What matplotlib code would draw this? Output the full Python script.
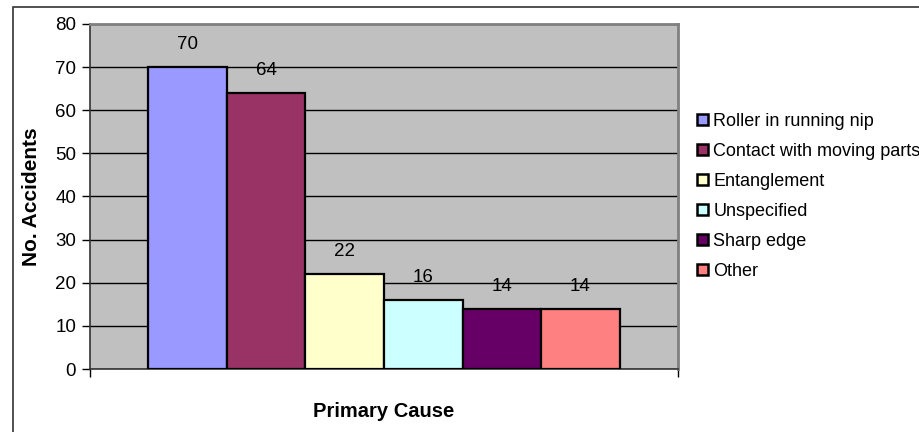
import matplotlib
matplotlib.use("Agg")
import matplotlib.pyplot as plt
from matplotlib.patches import Patch, Rectangle

plt.rcParams['font.family'] = ['Liberation Sans', 'DejaVu Sans']

causes = ["Roller in running nip", "Contact with moving parts", "Entanglement",
          "Unspecified", "Sharp edge", "Other"]
accidents = [70, 64, 22, 16, 14, 14]
colors = ["#9999FF", "#993366", "#FFFFCC", "#CCFFFF", "#660066", "#FF8080"]
yticks = [0, 10, 20, 30, 40, 50, 60, 70, 80]

fig = plt.figure(figsize=(9.2, 4.32), dpi=100)
fig.patch.set_facecolor("white")

# outer chart frame
fig.add_artist(Rectangle((13 / 920, -0.1), 1.2, 1 - 7 / 432 + 0.1,
                         transform=fig.transFigure, fill=False,
                         edgecolor="#333333", linewidth=1.2))

ax = fig.add_axes([90 / 920, 1 - 369 / 432, (678 - 90) / 920, (369 - 24) / 432])
ax.set_facecolor("#C0C0C0")

x = list(range(len(causes)))
bars = ax.bar(x, accidents, width=1.0, color=colors, edgecolor="black",
              linewidth=1.6, zorder=3)
for xi, v in zip(x, accidents):
    ax.annotate(str(v), (xi, v), xytext=(0, 10), textcoords="offset points",
                ha="center", va="bottom", fontsize=13.5, zorder=4)

ax.set_xlim(-0.5 - 0.745, len(causes) - 0.5 + 0.745)
ax.set_ylim(0, 80)
ax.set_yticks(yticks)
ax.set_yticklabels([str(t) for t in yticks], fontsize=13.5)
ax.set_xticks([ax.get_xlim()[0], ax.get_xlim()[1]])
ax.set_xticklabels(["", ""])
ax.tick_params(axis="y", direction="out", length=6, width=1, pad=4, colors="black")
ax.tick_params(axis="x", direction="out", length=6, width=1)
ax.yaxis.grid(True, color="black", linewidth=1, zorder=1)
ax.set_axisbelow(True)

for s in ["top", "right"]:
    ax.spines[s].set_color("#808080")
    ax.spines[s].set_linewidth(2)
ax.spines["left"].set_color("#333333")
ax.spines["bottom"].set_color("#333333")
ax.spines["left"].set_linewidth(1.2)
ax.spines["bottom"].set_linewidth(1.2)

ax.set_ylabel("No. Accidents", fontsize=15, fontweight="bold", labelpad=10)
ax.set_xlabel("Primary Cause", fontsize=14.5, fontweight="bold", labelpad=14)

handles = [Patch(facecolor=c, edgecolor="black", linewidth=1.8) for c in colors]
fig.legend(handles, causes, loc="upper left", bbox_to_anchor=(697 / 920, 1 - 113 / 432),
           frameon=False, fontsize=13, handlelength=0.6, handleheight=0.6,
           handletextpad=0.3, labelspacing=0.72, borderaxespad=0, borderpad=0)

fig.savefig("out.png", dpi=100)
